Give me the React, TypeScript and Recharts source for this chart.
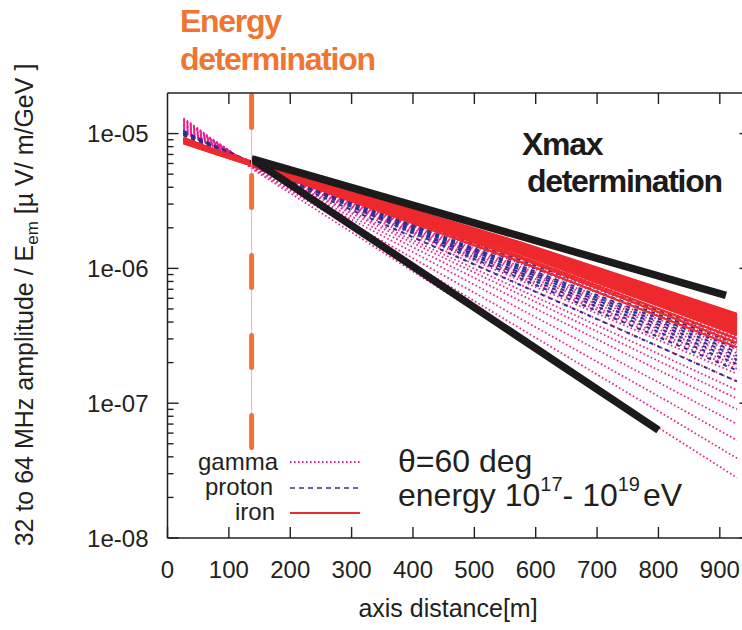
import React from 'react';
import { LineChart, Line, XAxis, YAxis } from 'recharts';

const FONT = '"Liberation Sans", Arial, Helvetica, sans-serif';
const INK = '#231f20';
const GAMMA = '#ea2190';
const PROTON = '#2e3192';
const IRON = '#ee2a2e';
const ORANGE = '#f07532';
const BLACK = '#1c1a1a';

// axis distance (m) of the sampled points of each lateral profile
const gammaDistances = [26, 45, 70, 100, 137, 928];
const protonDistances = [26, 45, 70, 100, 137, 928];
const ironDistances = [26, 70, 137, 575, 928];

// amplitude / E_em, one row per simulated shower
const gammaProfiles = [
  [1.02e-5, 9.2e-6, 8.2e-6, 7.1e-6, 6.2e-6, 3.8e-7],
  [1.03e-5, 9.3e-6, 8.2e-6, 7.1e-6, 6.2e-6, 3.6e-7],
  [1.05e-5, 9.4e-6, 8.3e-6, 7.2e-6, 6.2e-6, 3.3e-7],
  [1.06e-5, 9.5e-6, 8.3e-6, 7.2e-6, 6.1e-6, 3.1e-7],
  [1.08e-5, 9.6e-6, 8.4e-6, 7.2e-6, 6.1e-6, 2.9e-7],
  [1.09e-5, 9.7e-6, 8.4e-6, 7.3e-6, 6.1e-6, 2.7e-7],
  [1.1e-5, 9.8e-6, 8.5e-6, 7.3e-6, 6.0e-6, 2.5e-7],
  [1.12e-5, 9.9e-6, 8.5e-6, 7.3e-6, 6.0e-6, 2.35e-7],
  [1.13e-5, 1.0e-5, 8.6e-6, 7.3e-6, 6.0e-6, 2.2e-7],
  [1.15e-5, 1.01e-5, 8.7e-6, 7.3e-6, 6.0e-6, 2.05e-7],
  [1.16e-5, 1.02e-5, 8.7e-6, 7.4e-6, 5.9e-6, 1.9e-7],
  [1.17e-5, 1.03e-5, 8.8e-6, 7.4e-6, 5.9e-6, 1.8e-7],
  [1.18e-5, 1.04e-5, 8.8e-6, 7.4e-6, 5.9e-6, 1.65e-7],
  [1.19e-5, 1.05e-5, 8.9e-6, 7.4e-6, 5.9e-6, 1.45e-7],
  [1.21e-5, 1.06e-5, 9.0e-6, 7.4e-6, 5.8e-6, 1.25e-7],
  [1.23e-5, 1.08e-5, 9.0e-6, 7.4e-6, 5.8e-6, 1.08e-7],
  [1.25e-5, 1.09e-5, 9.1e-6, 7.5e-6, 5.7e-6, 9.0e-8],
  [1.26e-5, 1.1e-5, 9.1e-6, 7.5e-6, 5.7e-6, 7.0e-8],
  [1.27e-5, 1.11e-5, 9.2e-6, 7.5e-6, 5.6e-6, 5.3e-8],
  [1.28e-5, 1.12e-5, 9.2e-6, 7.5e-6, 5.6e-6, 3.9e-8],
  [1.3e-5, 1.13e-5, 9.3e-6, 7.5e-6, 5.5e-6, 2.8e-8],
];

const protonProfiles = [
  [1.05e-5, 9.5e-6, 8.4e-6, 7.3e-6, 6.1e-6, 3.0e-7],
  [1.04e-5, 9.4e-6, 8.4e-6, 7.3e-6, 6.1e-6, 2.75e-7],
  [1.03e-5, 9.4e-6, 8.3e-6, 7.2e-6, 6.0e-6, 2.55e-7],
  [1.02e-5, 9.3e-6, 8.3e-6, 7.2e-6, 6.0e-6, 2.4e-7],
  [1.01e-5, 9.2e-6, 8.2e-6, 7.2e-6, 6.0e-6, 2.25e-7],
  [1.0e-5, 9.2e-6, 8.2e-6, 7.1e-6, 5.9e-6, 2.1e-7],
  [9.9e-6, 9.1e-6, 8.1e-6, 7.1e-6, 5.9e-6, 1.95e-7],
  [9.8e-6, 9.0e-6, 8.1e-6, 7.1e-6, 5.9e-6, 1.75e-7],
  [9.7e-6, 8.9e-6, 8.0e-6, 7.0e-6, 5.8e-6, 1.45e-7],
];

const ironProfiles = [
  [9.3e-6, 7.8e-6, 6.2e-6, 1.56e-6, 4.6e-7],
  [9.25e-6, 7.75e-6, 6.15e-6, 1.54e-6, 4.5e-7],
  [9.2e-6, 7.7e-6, 6.1e-6, 1.52e-6, 4.4e-7],
  [9.15e-6, 7.7e-6, 6.1e-6, 1.5e-6, 4.3e-7],
  [9.1e-6, 7.7e-6, 6.1e-6, 1.49e-6, 4.2e-7],
  [9.05e-6, 7.65e-6, 6.05e-6, 1.47e-6, 4.1e-7],
  [9.0e-6, 7.6e-6, 6.0e-6, 1.45e-6, 4.0e-7],
  [8.95e-6, 7.6e-6, 6.0e-6, 1.43e-6, 3.9e-7],
  [8.9e-6, 7.6e-6, 6.0e-6, 1.41e-6, 3.8e-7],
  [8.85e-6, 7.55e-6, 6.0e-6, 1.39e-6, 3.7e-7],
  [8.8e-6, 7.5e-6, 6.0e-6, 1.37e-6, 3.6e-7],
  [8.8e-6, 7.5e-6, 5.95e-6, 1.35e-6, 3.5e-7],
  [8.8e-6, 7.5e-6, 5.9e-6, 1.32e-6, 3.4e-7],
  [8.75e-6, 7.45e-6, 5.9e-6, 1.3e-6, 3.3e-7],
  [8.7e-6, 7.4e-6, 5.9e-6, 1.28e-6, 3.2e-7],
  [8.6e-6, 7.4e-6, 5.9e-6, 1.23e-6, 3.0e-7],
  [8.5e-6, 7.3e-6, 5.8e-6, 1.19e-6, 2.8e-7],
  [8.5e-6, 7.3e-6, 5.8e-6, 1.12e-6, 2.6e-7],
];

// bounds of the Xmax-sensitive region
const xmaxUpperBound = [
  { x: 137, y: 6.5e-6 },
  { x: 910, y: 6.3e-7 },
];
const xmaxLowerBound = [
  { x: 137, y: 6.5e-6 },
  { x: 800, y: 6.3e-8 },
];
// distance used for the energy estimate
const energyCut = [
  { x: 137, y: 2e-5 },
  { x: 137, y: 4.5e-8 },
];

const xTicks = [0, 100, 200, 300, 400, 500, 600, 700, 800, 900];
const yMajorTicks = [1e-8, 1e-7, 1e-6, 1e-5];
const yTickLabels = ['1e-08', '1e-07', '1e-06', '1e-05'];
const yTicks = [
  1e-8, 2e-8, 3e-8, 4e-8, 5e-8, 6e-8, 7e-8, 8e-8, 9e-8,
  1e-7, 2e-7, 3e-7, 4e-7, 5e-7, 6e-7, 7e-7, 8e-7, 9e-7,
  1e-6, 2e-6, 3e-6, 4e-6, 5e-6, 6e-6, 7e-6, 8e-6, 9e-6,
  1e-5,
];

const toPoints = (xs: number[], ys: number[]) => ys.map((y, i) => ({ x: xs[i], y }));
const gammaSeries = gammaProfiles.map((p) => toPoints(gammaDistances, p));
const protonSeries = protonProfiles.map((p) => toPoints(protonDistances, p));
const ironSeries = ironProfiles.map((p) => toPoints(ironDistances, p));

const MAJOR = 11;
const MINOR = 6;

const majorIndex = (v: number) => yMajorTicks.findIndex((m) => Math.abs(v / m - 1) < 1e-6);

const LeftTick = (props: any) => {
  const { x, y, payload } = props;
  const idx = majorIndex(payload.value);
  return (
    <g>
      <line x1={x} x2={x + (idx >= 0 ? MAJOR : MINOR)} y1={y} y2={y} stroke={INK} strokeWidth={1.4} />
      {idx >= 0 && (
        <text x={x - 19} y={y + 8.5} textAnchor="end" fontSize={24} fontFamily={FONT} fill={INK}>
          {yTickLabels[idx]}
        </text>
      )}
    </g>
  );
};

const RightTick = (props: any) => {
  const { x, y, payload } = props;
  const idx = majorIndex(payload.value);
  return <line x1={x} x2={x - (idx >= 0 ? MAJOR : MINOR)} y1={y} y2={y} stroke={INK} strokeWidth={1.4} />;
};

const BottomTick = (props: any) => {
  const { x, y, payload } = props;
  return (
    <g>
      <line x1={x} x2={x} y1={y} y2={y - MAJOR} stroke={INK} strokeWidth={1.4} />
      <text x={x} y={y + 40} textAnchor="middle" fontSize={24} fontFamily={FONT} fill={INK}>
        {payload.value}
      </text>
    </g>
  );
};

const TopTick = (props: any) => {
  const { x, y } = props;
  return <line x1={x} x2={x} y1={y} y2={y + MAJOR} stroke={INK} strokeWidth={1.4} />;
};

const axisLine = { stroke: INK, strokeWidth: 1.5 };

const common = {
  xAxisId: 'b',
  yAxisId: 'l',
  dataKey: 'y',
  type: 'linear' as const,
  dot: false,
  activeDot: false,
  isAnimationActive: false,
};

export default function App() {
  return (
    <div style={{ position: 'absolute', left: 0, top: 0, width: 742, height: 630, overflow: 'hidden', background: '#fff' }}>
      <LineChart width={770} height={630} margin={{ top: 88, right: 9.5, bottom: 42, left: 107.5 }}>
        <XAxis
          xAxisId="b"
          dataKey="x"
          type="number"
          domain={[0, 950]}
          allowDataOverflow
          ticks={xTicks}
          interval={0}
          tickSize={0}
          tickMargin={0}
          tick={BottomTick}
          axisLine={axisLine}
          height={50}
        />
        <XAxis
          xAxisId="t"
          orientation="top"
          dataKey="x"
          type="number"
          domain={[0, 950]}
          allowDataOverflow
          ticks={xTicks.slice(1)}
          interval={0}
          tickSize={0}
          tickMargin={0}
          tick={TopTick}
          axisLine={axisLine}
          height={5}
        />
        <YAxis
          yAxisId="l"
          type="number"
          scale="log"
          domain={[1e-8, 2e-5]}
          allowDataOverflow
          ticks={yTicks}
          interval={0}
          tickSize={0}
          tickMargin={0}
          tick={LeftTick}
          axisLine={axisLine}
          width={60}
        />
        <YAxis
          yAxisId="r"
          orientation="right"
          type="number"
          scale="log"
          domain={[1e-8, 2e-5]}
          allowDataOverflow
          ticks={yTicks}
          interval={0}
          tickSize={0}
          tickMargin={0}
          tick={RightTick}
          axisLine={axisLine}
          width={10}
        />

        {gammaSeries.map((d, i) => (
          <Line key={`g${i}`} {...common} data={d} stroke={GAMMA} strokeWidth={1.8} strokeDasharray="1.6 2.4" />
        ))}
        {protonSeries.map((d, i) => (
          <Line key={`p${i}`} {...common} data={d} stroke={PROTON} strokeWidth={2} strokeDasharray="4 4.5" />
        ))}
        {ironSeries.map((d, i) => (
          <Line key={`f${i}`} {...common} data={d} stroke={IRON} strokeWidth={2.4} />
        ))}

        <Line {...common} data={xmaxUpperBound} stroke={BLACK} strokeWidth={7.5} />
        <Line {...common} data={xmaxLowerBound} stroke={BLACK} strokeWidth={7.5} />
        <Line {...common} data={energyCut} stroke="#f4b49a" strokeWidth={1} />
        <Line
          {...common}
          data={energyCut}
          stroke={ORANGE}
          strokeWidth={5}
          strokeDasharray="32 48"
          strokeDashoffset={-2.5}
          strokeLinecap="round"
        />
      </LineChart>

      <svg
        width={742}
        height={630}
        style={{ position: 'absolute', left: 0, top: 0, pointerEvents: 'none' }}
        fontFamily={FONT}
      >
        <g fill={ORANGE} fontWeight="bold" fontSize={32} letterSpacing={-1.3}>
          <text x={180} y={32}>Energy</text>
          <text x={180} y={70}>determination</text>
        </g>
        <g fill={BLACK} fontWeight="bold" fontSize={32} letterSpacing={-1.3}>
          <text x={522} y={155}>Xmax</text>
          <text x={527} y={192}>determination</text>
        </g>

        <text transform="translate(33,305) rotate(-90)" textAnchor="middle" fontSize={25} fill={INK}>
          32 to 64 MHz amplitude / E
          <tspan fontSize={17} dy={5}>em</tspan>
          <tspan dy={-5}> [µ V/ m/GeV ]</tspan>
        </text>
        <text x={448} y={617} textAnchor="middle" fontSize={25} fill={INK}>
          axis distance[m]
        </text>

        <g fontSize={24} fill={INK} textAnchor="end">
          <text x={278} y={470}>gamma</text>
          <text x={273} y={495}>proton</text>
          <text x={275} y={520}>iron</text>
        </g>
        <line x1={290} x2={360} y1={462} y2={462} stroke={GAMMA} strokeWidth={1.8} strokeDasharray="1.6 2.4" />
        <line x1={290} x2={360} y1={488} y2={488} stroke={PROTON} strokeWidth={1.6} strokeDasharray="5 4" />
        <line x1={290} x2={360} y1={513} y2={513} stroke={IRON} strokeWidth={2} />

        <g fontSize={32} fill={INK}>
          <text x={398} y={472}>θ=60 deg</text>
          <text x={398} y={506}>
            energy 10
            <tspan fontSize={20} dy={-15}>17</tspan>
            <tspan dy={15}>- 10</tspan>
            <tspan fontSize={20} dy={-15}>19</tspan>
            <tspan dy={15} dx={3}>eV</tspan>
          </text>
        </g>
      </svg>
    </div>
  );
}
